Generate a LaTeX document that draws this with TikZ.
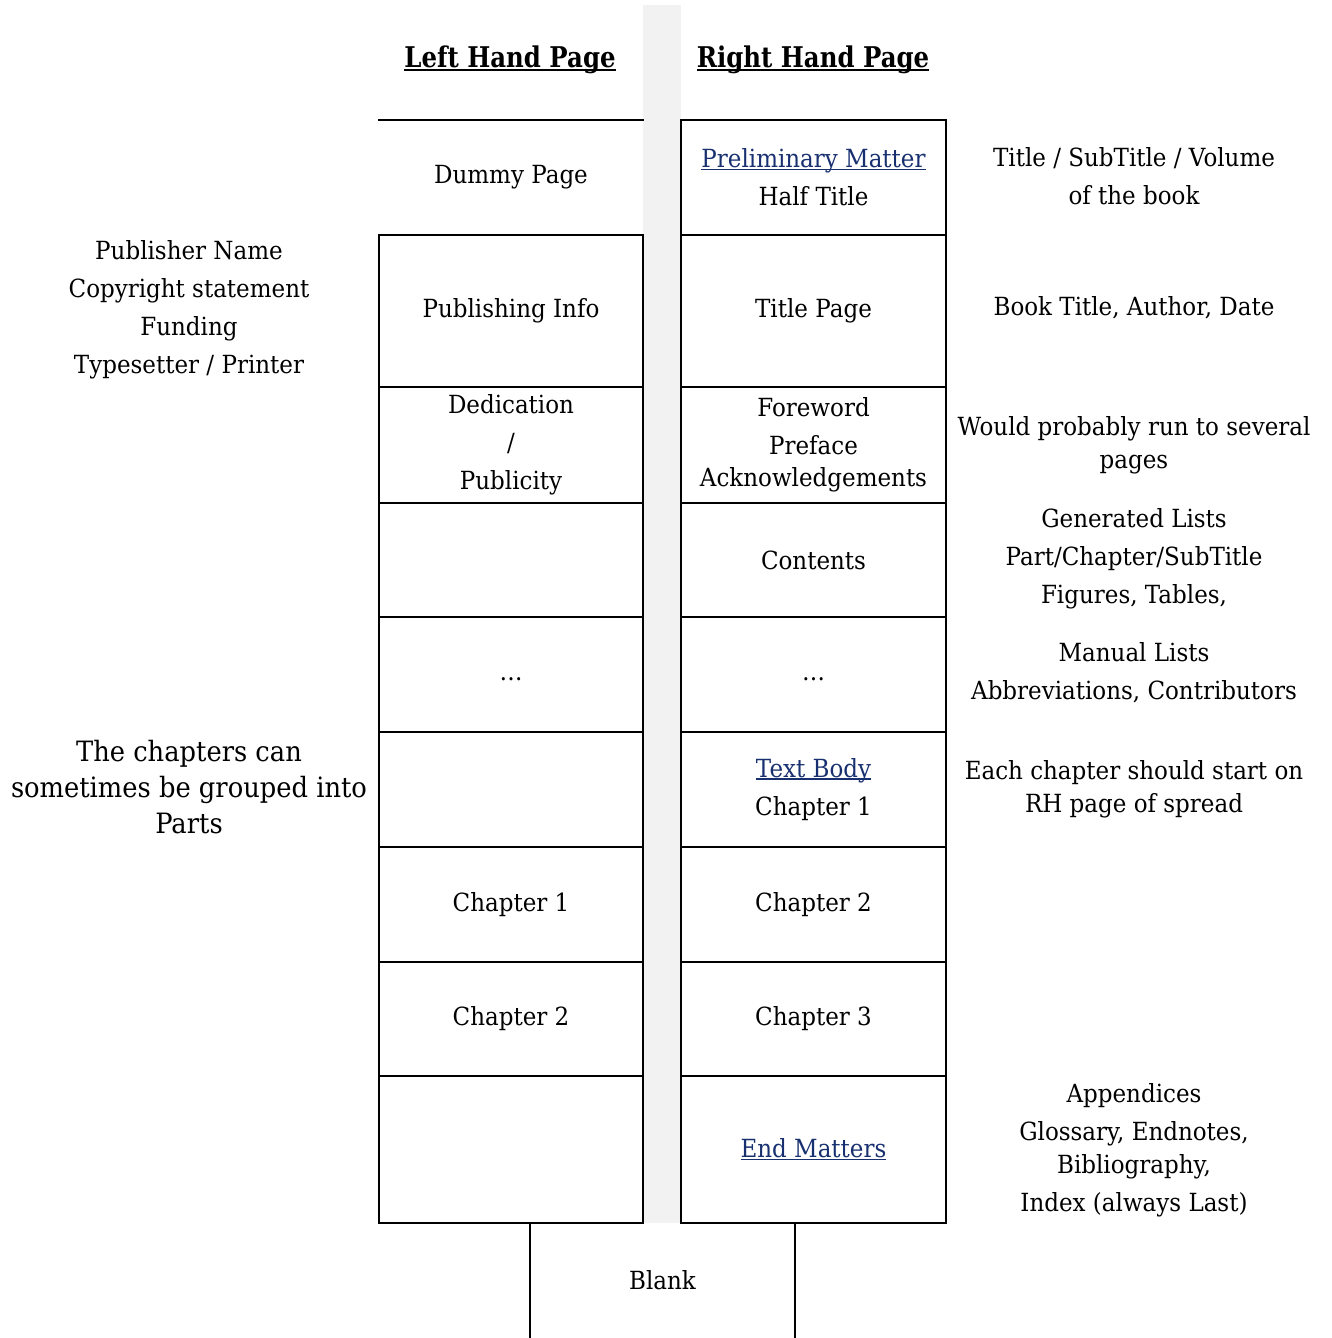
\documentclass[tikz,border=0pt]{standalone}
\usepackage{fontspec}
\setmainfont[FakeStretch=0.92]{DejaVu Serif}
\newfontfamily\headfont[FakeStretch=0.855]{DejaVu Serif}
\definecolor{linkblue}{RGB}{24,48,112}
\definecolor{spinegray}{RGB}{242,242,242}
\newcommand\myul[1]{\setbox0\hbox{#1}\rlap{\rule[-0.1em]{\wd0}{0.06em}}\box0}
\newcommand\mylink[1]{\textcolor{linkblue}{\myul{#1}}}
\begin{document}
\begin{tikzpicture}[x=0.75pt,y=-0.75pt,
  boxfont/.style={font={\fontsize{18.75pt}{28.5pt}\selectfont}},
  pagebox/.style={draw, line width=1.5pt, inner sep=0pt, align=center,
    minimum width=198.5pt, boxfont},
  openbox/.style={inner sep=0pt, align=center, minimum width=198.5pt, boxfont},
  edge/.style={line width=1.5pt},
  note/.style={inner sep=0pt, align=center, boxfont},
  bignote/.style={inner sep=0pt, align=center,
    font={\fontsize{21pt}{27pt}\selectfont}},
  heading/.style={inner sep=0pt, anchor=base,
    font={\headfont\bfseries\fontsize{21.4pt}{24pt}\selectfont}}]
\useasboundingbox (0,0) rectangle (1331,1338);

% spine
\fill[spinegray] (643,5) rectangle (681,1223);

% headings
\node[heading] (lhp) at (510,68) {\myul{Left Hand Page}};
\node[heading] (rhp) at (813,68) {\myul{Right Hand Page}};

% left hand pages
\node[openbox, minimum height=86.25pt] (dummy) at (511,177.5) {Dummy Page};
\draw[edge] (dummy.north west) -- (dummy.north east);
\node[pagebox, minimum height=114pt] (pubinfo) at (511,311) {Publishing Info};
\node[pagebox, minimum height=87pt] (dedic) at (511,445) {Dedication\\/\\Publicity};
\node[pagebox, minimum height=85.5pt] (lfour) at (511,560) {};
\node[pagebox, minimum height=86.25pt] (ldots) at (511,674.5) {\vphantom{Ag}…};
\node[pagebox, minimum height=86.25pt] (lsix) at (511,789.5) {};
\node[pagebox, minimum height=86.25pt] (lchone) at (511,904.5) {Chapter 1};
\node[pagebox, minimum height=85.5pt] (lchtwo) at (511,1019) {Chapter 2};
\node[pagebox, minimum height=110.25pt] (lnine) at (511,1149.5) {};

% right hand pages
\node[pagebox, minimum height=86.25pt] (prelim) at (813.5,177.5) {\mylink{Preliminary Matter}\\Half Title};
\node[pagebox, minimum height=114pt] (titlep) at (813.5,311) {Title Page};
\node[pagebox, minimum height=87pt] (fore) at (813.5,445) {Foreword\\Preface\\[-4.5pt]Acknowledgements};
\node[pagebox, minimum height=85.5pt] (contents) at (813.5,560) {Contents};
\node[pagebox, minimum height=86.25pt] (rdots) at (813.5,674.5) {\vphantom{Ag}…};
\node[pagebox, minimum height=86.25pt] (textbody) at (813.5,789.5) {\mylink{Text Body}\\Chapter 1};
\node[pagebox, minimum height=86.25pt] (rchtwo) at (813.5,904.5) {Chapter 2};
\node[pagebox, minimum height=85.5pt] (rchthree) at (813.5,1019) {Chapter 3};
\node[pagebox, minimum height=110.25pt] (endm) at (813.5,1149.5) {\mylink{End Matters}};

% blank page
\node[openbox, minimum height=86.25pt] (blank) at (662.5,1280.5) {Blank};
\draw[edge] (blank.north west) -- (blank.south west);
\draw[edge] (blank.north east) -- (blank.south east);

% right notes
\node[note] (nhalf) at (1134,176) {Title / SubTitle / Volume\\of the book};
\node[note] (ntitle) at (1134,308) {Book Title, Author, Date};
\node[note] (nfore) at (1134,445) {Would probably run to several\\[-3.75pt]pages};
\node[note] (ncont) at (1134,559) {Generated Lists\\Part/Chapter/SubTitle\\Figures, Tables,};
\node[note] (nmanual) at (1134,673) {Manual Lists\\Abbreviations, Contributors};
\node[note] (nchap) at (1134,789) {Each chapter should start on\\[-3.75pt]RH page of spread};
\node[note] (nend) at (1134,1150) {Appendices\\Glossary, Endnotes,\\[-3.75pt]Bibliography,\\Index (always Last)};

% left notes
\node[note] (npub) at (189,310) {Publisher Name\\Copyright statement\\Funding\\Typesetter / Printer};
\node[bignote] (nparts) at (189,787) {The chapters can\\sometimes be grouped into\\Parts};
\end{tikzpicture}
\end{document}
